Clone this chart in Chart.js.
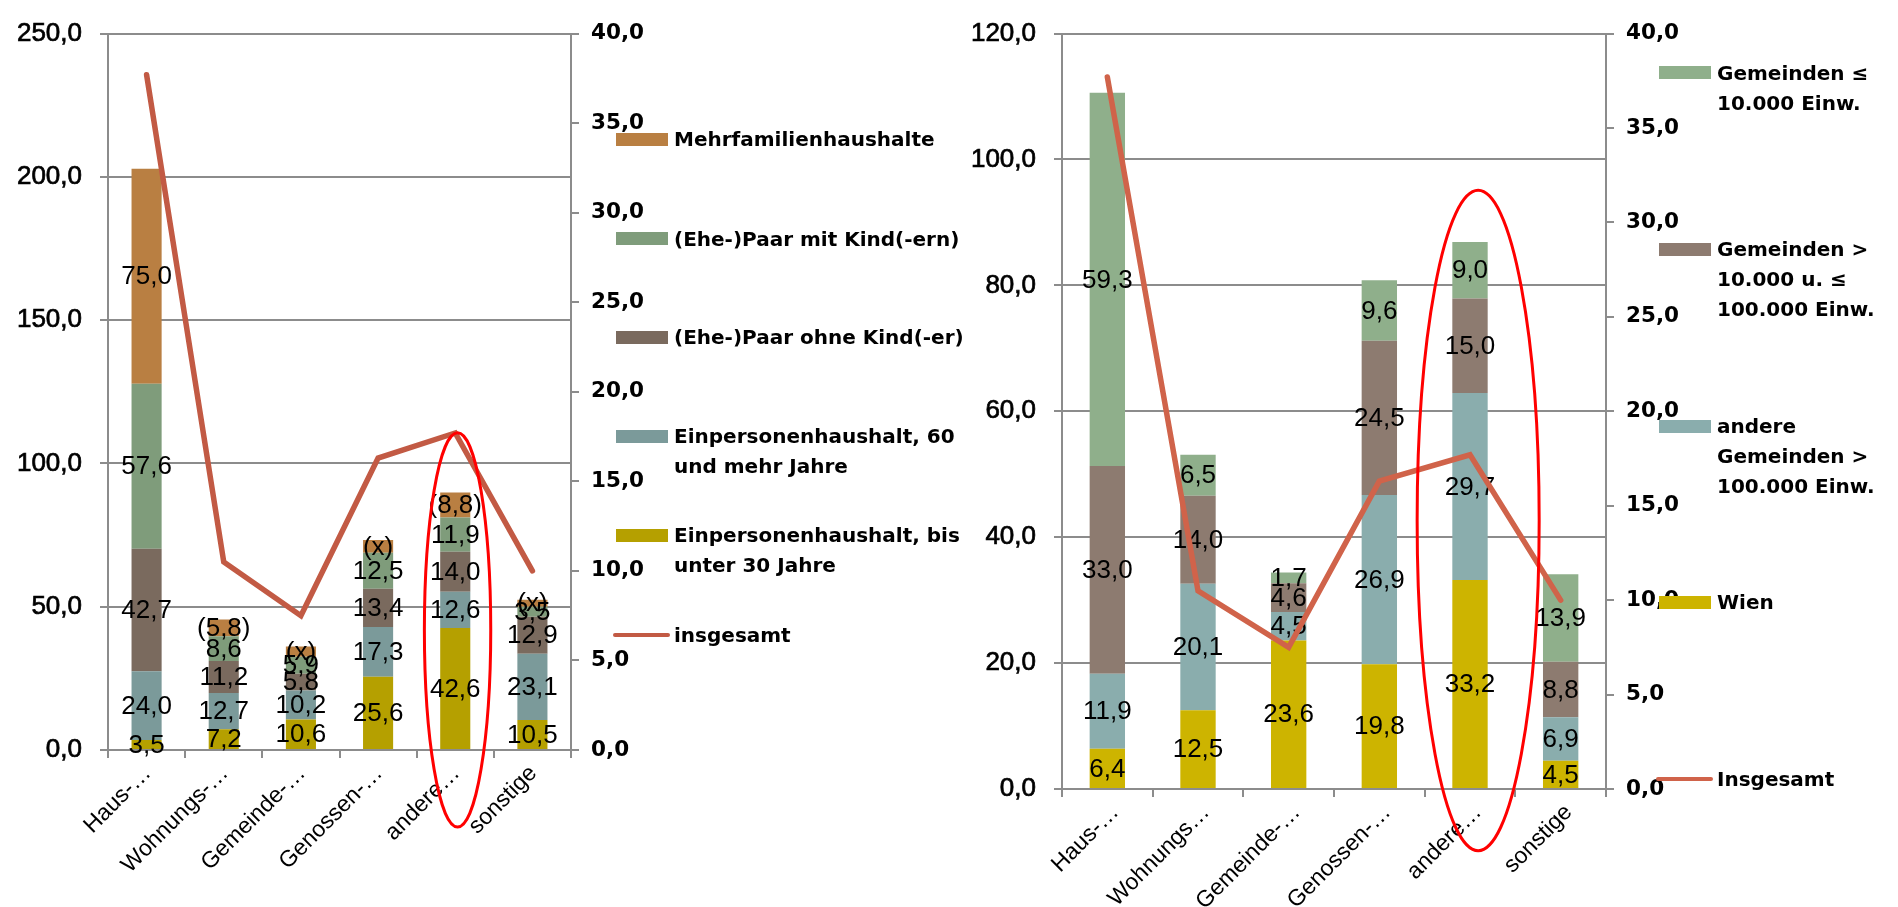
<!DOCTYPE html>
<html lang="de">
<head>
<meta charset="utf-8">
<title>Haushalte nach Rechtsverhältnis der Wohnung</title>
<script src="https://cdn.jsdelivr.net/npm/chart.js@4.4.1/dist/chart.umd.min.js"></script>
<style>
  html, body { margin: 0; padding: 0; background: #fff; }
  body { width: 1898px; height: 907px; position: relative; overflow: hidden; }
  .wrap { position: absolute; top: 0; height: 907px; }
  #wrapA { left: 0; width: 960px; }
  #wrapB { left: 960px; width: 938px; }
  .legend { position: absolute; left: 0; top: 0; font-family: "DejaVu Sans", sans-serif; font-weight: bold;
            font-size: 20px; line-height: 30px; color: #000; }
  .sw { position: absolute; width: 52px; height: 13px; }
  .ln { position: absolute; height: 4px; border-radius: 2px; }
  .lt { position: absolute; white-space: nowrap; }
</style>
</head>
<body>
<div class="wrap" id="wrapA"><canvas id="chartA"></canvas></div>
<div class="wrap" id="wrapB"><canvas id="chartB"></canvas></div>
<div class="legend" id="legendA"></div>
<div class="legend" id="legendB"></div>
<script>
// ---- categories ----
const categoriesA = ['Haus-…', 'Wohnungs-…', 'Gemeinde-…', 'Genossen-…', 'andere…', 'sonstige'];
const categoriesB = ['Haus-…', 'Wohnungs…', 'Gemeinde-…', 'Genossen-…', 'andere…', 'sonstige'];

// ---- left chart: household types ----
const einpersonenBis30 = [3.5, 7.2, 10.6, 25.6, 42.6, 10.5];
const einpersonen60    = [24.0, 12.7, 10.2, 17.3, 12.6, 23.1];
const paarOhneKind     = [42.7, 11.2, 5.8, 13.4, 14.0, 12.9];
const paarMitKind      = [57.6, 8.6, 5.9, 12.5, 11.9, 3.5];
const mehrfamilien     = [75.0, 5.8, 3.6, 4.5, 8.8, 2.4];
const mehrfamilienText = ['75,0', '(5,8)', '(x)', '(x)', '(8,8)', '(x)'];

// ---- right chart: municipality size ----
const wien                = [6.4, 12.5, 23.6, 19.8, 33.2, 4.5];
const andereGemeinden100k = [11.9, 20.1, 4.5, 26.9, 29.7, 6.9];
const gemeinden10kBis100k = [33.0, 14.0, 4.6, 24.5, 15.0, 8.8];
const gemeindenBis10k     = [59.3, 6.5, 1.7, 9.6, 9.0, 13.9];

// ---- total (secondary axis, both charts) ----
const insgesamt = [37.7, 10.5, 7.5, 16.3, 17.7, 10.0];

// ---- tick labels ----
const ticksLeftA  = [0, 50, 100, 150, 200, 250];
const ticksLeftB  = [0, 20, 40, 60, 80, 100, 120];
const ticksRight  = [0, 5, 10, 15, 20, 25, 30, 35, 40];

const fmt = v => Number(v).toFixed(1).replace('.', ',');
const GRID = '#8c8c8c';
const LEFT_FONT = { family: 'Liberation Sans', size: 26 };
const RIGHT_FONT = { family: 'DejaVu Sans', size: 21.5, weight: 'bold' };
const CAT_FONT = { family: 'Liberation Sans', size: 23 };

// value labels centred in every stacked segment
const segmentLabels = {
  id: 'segmentLabels',
  afterDatasetDraw(chart, args) {
    if (args.index !== 0) return;          // bar 0 is the last bar drawn
    const ctx = chart.ctx;
    ctx.save();
    ctx.font = '26px "Liberation Sans"';
    ctx.fillStyle = '#000';
    ctx.textAlign = 'center';
    ctx.textBaseline = 'middle';
    chart.data.datasets.forEach((ds, i) => {
      if (ds.type === 'line') return;
      chart.getDatasetMeta(i).data.forEach((el, j) => {
        const text = ds.segmentText ? ds.segmentText[j] : fmt(ds.data[j]);
        ctx.fillText(text, el.x, (el.y + el.base) / 2 + 1);
      });
    });
    ctx.restore();
  }
};

// red highlight ring around one category
const focusRing = {
  id: 'focusRing',
  afterDraw(chart, args, o) {
    const x = chart.scales.x, y = chart.scales.y, ctx = chart.ctx;
    const step = x.getPixelForValue(1) - x.getPixelForValue(0);
    const cx = x.getPixelForValue(o.index) + o.dx * step;
    const top = y.getPixelForValue(o.yTop), bottom = y.getPixelForValue(o.yBottom);
    ctx.save();
    ctx.beginPath();
    ctx.ellipse(cx, (top + bottom) / 2, o.rx * step, (bottom - top) / 2, 0, 0, Math.PI * 2);
    ctx.strokeStyle = o.color;
    ctx.lineWidth = o.width;
    ctx.stroke();
    ctx.restore();
  }
};

function valueAxis(position, ticks, width, onArea, font, padding, stroke) {
  return {
    type: 'linear',
    position,
    stacked: position === 'left',
    min: ticks[0],
    max: ticks[ticks.length - 1],
    afterBuildTicks: s => { s.ticks = ticks.map(v => ({ value: v })); },
    afterFit: s => { s.width = width; },
    grid: { color: GRID, tickColor: GRID, lineWidth: 2, tickLength: 8, drawOnChartArea: onArea, drawTicks: true },
    border: { color: GRID, width: 2 },
    ticks: { color: '#000', font, padding, textStrokeColor: '#000', textStrokeWidth: stroke, callback: v => fmt(v) }
  };
}

function buildChart(id, categories, bars, line, cfg) {
  const datasets = bars.map(b => ({
    type: 'bar',
    label: b.label,
    data: b.data,
    segmentText: b.text,
    backgroundColor: b.color,
    borderWidth: 0,
    barPercentage: 0.39,
    categoryPercentage: 1,
    order: 1,
    yAxisID: 'y'
  }));
  datasets.push({
    type: 'line',
    label: line.label,
    data: line.data,
    borderColor: line.color,
    borderWidth: 5.5,
    borderCapStyle: 'round',
    borderJoinStyle: 'miter',
    pointRadius: 0,
    tension: 0,
    fill: false,
    order: 0,
    yAxisID: 'y2'
  });
  return new Chart(document.getElementById(id), {
    type: 'bar',
    data: { labels: categories, datasets },
    options: {
      responsive: true,
      maintainAspectRatio: false,
      animation: false,
      events: [],
      layout: { padding: { top: cfg.top, bottom: 0, left: 0, right: 0 } },
      plugins: {
        legend: { display: false },
        tooltip: { enabled: false },
        focusRing: cfg.ring
      },
      scales: {
        x: {
          stacked: true,
          offset: true,
          afterFit: s => { s.height = cfg.xHeight; },
          grid: { drawOnChartArea: false, drawTicks: true, tickLength: 8, color: GRID, tickColor: GRID, lineWidth: 2, offset: true },
          border: { display: true, color: GRID, width: 2 },
          ticks: { color: '#000', font: CAT_FONT, minRotation: 45, maxRotation: 45, autoSkip: false, padding: 2, labelOffset: cfg.labelShift }
        },
        y: valueAxis('left', cfg.leftTicks, cfg.leftWidth, true, LEFT_FONT, 18, 0.7),
        y2: valueAxis('right', ticksRight, cfg.rightWidth, false, RIGHT_FONT, 12, 0)
      }
    },
    plugins: [segmentLabels, focusRing]
  });
}

const barsA = [
  { label: 'Einpersonenhaushalt, bis unter 30 Jahre', data: einpersonenBis30, color: '#b5a000' },
  { label: 'Einpersonenhaushalt, 60 und mehr Jahre', data: einpersonen60, color: '#7b9a9a' },
  { label: '(Ehe-)Paar ohne Kind(-er)', data: paarOhneKind, color: '#7a6a5e' },
  { label: '(Ehe-)Paar mit Kind(-ern)', data: paarMitKind, color: '#7f9c7b' },
  { label: 'Mehrfamilienhaushalte', data: mehrfamilien, text: mehrfamilienText, color: '#b97f42' }
];
const lineA = { label: 'insgesamt', data: insgesamt, color: '#c25a44' };

const barsB = [
  { label: 'Wien', data: wien, color: '#cdb400' },
  { label: 'andere Gemeinden > 100.000 Einw.', data: andereGemeinden100k, color: '#8aadad' },
  { label: 'Gemeinden > 10.000 u. ≤ 100.000 Einw.', data: gemeinden10kBis100k, color: '#8d7b70' },
  { label: 'Gemeinden ≤ 10.000 Einw.', data: gemeindenBis10k, color: '#8faf8b' }
];
const lineB = { label: 'Insgesamt', data: insgesamt, color: '#d0634a' };

buildChart('chartA', categoriesA, barsA, lineA, {
  top: 22, xHeight: 157, leftWidth: 108, rightWidth: 389, leftTicks: ticksLeftA, labelShift: 1,
  ring: { index: 4, dx: 0.03, rx: 0.43, yTop: 110.7, yBottom: -26.9, color: '#ff0000', width: 3 }
});
buildChart('chartB', categoriesB, barsB, lineB, {
  top: 23, xHeight: 118, leftWidth: 102, rightWidth: 292, leftTicks: ticksLeftB, labelShift: 8,
  ring: { index: 4, dx: 0.09, rx: 0.673, yTop: 95.1, yBottom: -9.8, color: '#ff0000', width: 3 }
});

// ---- legends (top-to-bottom, with line breaks as wrapped in the legend box) ----
function buildLegend(id, items, swatchX, textX) {
  const box = document.getElementById(id);
  items.forEach(it => {
    if (it.line) {
      const l = document.createElement('div');
      l.className = 'ln';
      l.style.left = (swatchX - 3) + 'px';
      l.style.width = '57px';
      l.style.top = (it.y - 2) + 'px';
      l.style.background = it.color;
      box.appendChild(l);
    } else {
      const s = document.createElement('div');
      s.className = 'sw';
      s.style.left = swatchX + 'px';
      s.style.top = (it.y - 6.5) + 'px';
      s.style.background = it.color;
      box.appendChild(s);
    }
    const t = document.createElement('div');
    t.className = 'lt';
    t.style.left = textX + 'px';
    t.style.top = (it.y - 15) + 'px';
    it.lines.forEach((txt, k) => {
      if (k) t.appendChild(document.createElement('br'));
      t.appendChild(document.createTextNode(txt));
    });
    box.appendChild(t);
  });
}

buildLegend('legendA', [
  { lines: [barsA[4].label], color: barsA[4].color, y: 139 },
  { lines: [barsA[3].label], color: barsA[3].color, y: 238.5 },
  { lines: [barsA[2].label], color: barsA[2].color, y: 337 },
  { lines: ['Einpersonenhaushalt, 60', 'und mehr Jahre'], color: barsA[1].color, y: 436 },
  { lines: ['Einpersonenhaushalt, bis', 'unter 30 Jahre'], color: barsA[0].color, y: 535 },
  { lines: [lineA.label], color: lineA.color, y: 634.5, line: true }
], 616, 674);

buildLegend('legendB', [
  { lines: ['Gemeinden ≤', '10.000 Einw.'], color: barsB[3].color, y: 72.5 },
  { lines: ['Gemeinden >', '10.000 u. ≤', '100.000 Einw.'], color: barsB[2].color, y: 249 },
  { lines: ['andere', 'Gemeinden >', '100.000 Einw.'], color: barsB[1].color, y: 426 },
  { lines: [barsB[0].label], color: barsB[0].color, y: 602 },
  { lines: [lineB.label], color: lineB.color, y: 778.5, line: true }
], 1659, 1717);
</script>
</body>
</html>
